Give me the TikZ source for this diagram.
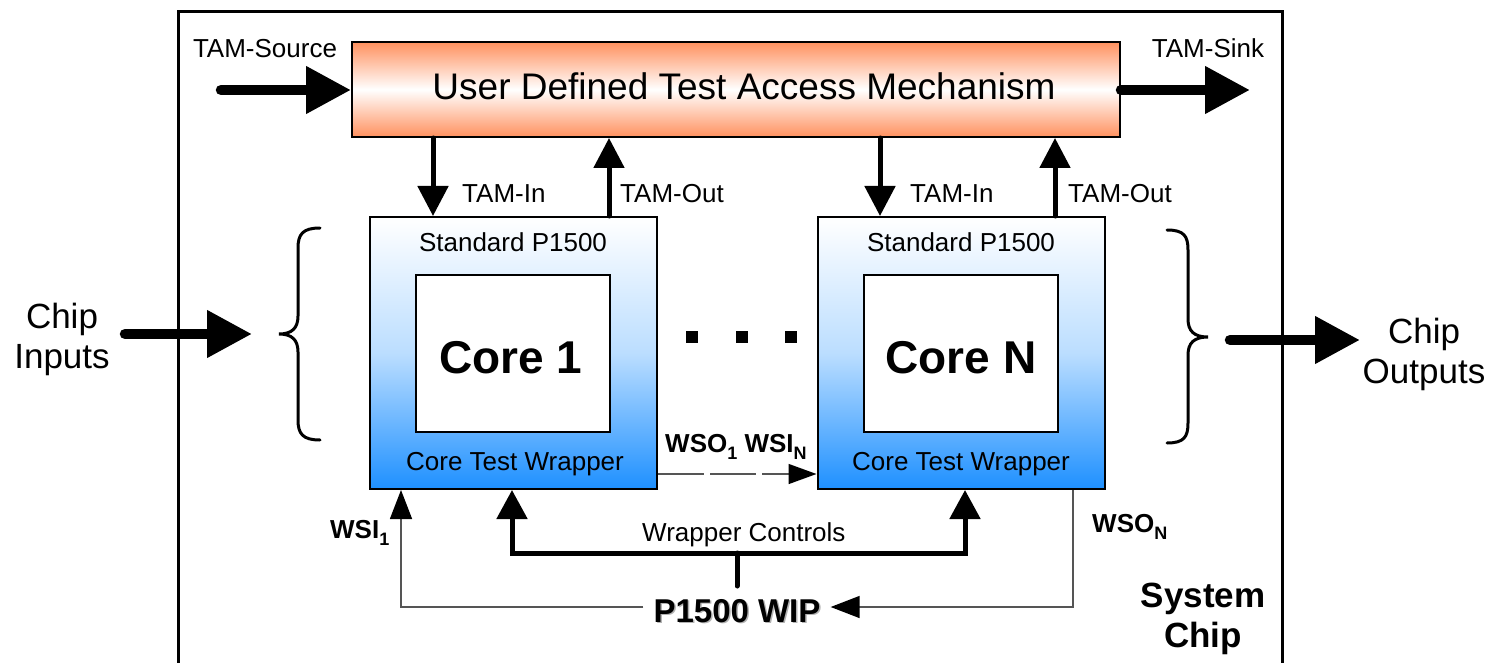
\documentclass[tikz,border=0pt]{standalone}
\usepackage{fontspec}
\setmainfont{Liberation Sans}
\usetikzlibrary{arrows.meta,calc}
\definecolor{tamorange}{RGB}{255,145,95}
\definecolor{wblue}{RGB}{30,144,255}
\definecolor{thinline}{RGB}{85,85,85}
\newcommand\mysub[1]{\raisebox{-7pt}{\fontsize{18}{20}\selectfont #1}}
\tikzset{
  lbl/.style={font=\fontsize{26}{30}\selectfont, inner sep=0pt},
  bl/.style={font=\bfseries\fontsize{26}{30}\selectfont, inner sep=0pt},
  big/.style={font=\fontsize{35}{40}\selectfont, align=center, inner sep=0pt},
  bigb/.style={font=\bfseries\fontsize{35}{40}\selectfont, align=center, inner sep=0pt},
  tambox/.style={draw=black, line width=2pt, top color=tamorange, bottom color=tamorange, middle color=white,
     minimum width=768pt, minimum height=95pt, inner sep=0pt, font=\fontsize{37}{40}\selectfont},
  wrapbox/.style={draw=black, line width=2pt, top color=white, bottom color=wblue, middle color=wblue!30!white,
     minimum width=287pt, minimum height=272pt, inner sep=0pt},
  corebox/.style={draw=black, line width=2pt, fill=white, minimum width=194pt, minimum height=157pt, inner sep=0pt,
     font=\bfseries\fontsize{46}{50}\selectfont},
  fatarr/.style={line width=10.5pt, line cap=round, -{Triangle[length=45pt,width=45pt]}},
  medarr/.style={line width=5pt, line cap=round, -{Triangle[length=30pt,width=30pt]}},
  thinarr/.style={line width=1.5pt, draw=thinline, -{Triangle[length=29pt,width=22pt,black]}},
  dasharr/.style={line width=1.5pt, draw=thinline, dash pattern=on 46pt off 6pt, -{Triangle[length=28pt,width=20pt,black]}},
  brace/.style={line width=3pt, line cap=round},
  dot/.style={fill=black, minimum size=12pt, inner sep=0pt},
}
\begin{document}
\begin{tikzpicture}[x=1pt,y=-1pt]
\useasboundingbox (0,0) rectangle (1493,663);
% system chip frame
\node[draw=black, line width=3pt, minimum width=1104pt, minimum height=700pt, inner sep=0pt, anchor=north west] (chip) at (177,10) {};

% TAM
\node[tambox] (tam) at (736,89.5) {};
\node[font=\fontsize{37}{40}\selectfont, inner sep=0pt, anchor=base] (tamtxt) at (744,100) {User Defined Test Access Mechanism};
\coordinate (srcstart) at (221,90);
\coordinate (sinkend) at (1250,90);
\draw[fatarr] (srcstart) -- (tam.west |- srcstart);
\draw[fatarr] (tam.east |- sinkend) -- (sinkend);
\node[lbl, anchor=base] (tamsrc) at (265,58) {TAM-Source};
\node[lbl, anchor=base] (tamsink) at (1208,58) {TAM-Sink};

% wrappers
\node[wrapbox] (core1) at (513.5,353) {};
\node[wrapbox] (coreN) at (961,353) {};
\node[corebox] (in1) at (512.5,353.5) {};
\node[corebox] (inN) at (960.5,353.5) {};
\node[font=\bfseries\fontsize{46}{50}\selectfont, inner sep=0pt, anchor=base] (c1txt) at (511,373) {Core 1};
\node[font=\bfseries\fontsize{46}{50}\selectfont, inner sep=0pt, anchor=base] (cNtxt) at (961,373) {Core N};
\node[lbl, anchor=base] (std1) at (513,251) {Standard P1500};
\node[lbl, anchor=base] (stdN) at (961,251) {Standard P1500};
\node[lbl, anchor=base] (ctw1) at (515,470) {Core Test Wrapper};
\node[lbl, anchor=base] (ctwN) at (961,470) {Core Test Wrapper};

% TAM in/out
\draw[medarr] (tam.south -| 433,0) -- (core1.north -| 433,0);
\draw[medarr] (core1.north -| 609,0) -- (tam.south -| 609,0);
\draw[medarr] (tam.south -| 880,0) -- (coreN.north -| 880,0);
\draw[medarr] (coreN.north -| 1055,0) -- (tam.south -| 1055,0);
\node[lbl, anchor=base west] (tin1) at (462,203) {TAM-In};
\node[lbl, anchor=base west] (tout1) at (620,203) {TAM-Out};
\node[lbl, anchor=base west] (tinN) at (910,203) {TAM-In};
\node[lbl, anchor=base west] (toutN) at (1068,203) {TAM-Out};

% dots
\node[dot] (d1) at (692,337) {};
\node[dot] (d2) at (742,337) {};
\node[dot] (d3) at (791,337) {};

% braces
\draw[brace] (320,228) .. controls (303,228) and (298,234) .. (298,248) -- (298,316) .. controls (298,328) and (292,334) .. (279,334)
  .. controls (292,334) and (298,340) .. (298,352) -- (298,420) .. controls (298,434) and (303,440) .. (320,440);
\draw[brace] (1167,230) .. controls (1184,230) and (1188,236) .. (1188,250) -- (1188,319) .. controls (1188,331) and (1194,337) .. (1208,337)
  .. controls (1194,337) and (1188,343) .. (1188,355) -- (1188,423) .. controls (1188,437) and (1184,443) .. (1167,443);

% chip inputs / outputs
\coordinate (inStart) at (125,334);
\coordinate (inEnd) at (252,334);
\coordinate (outStart) at (1230,340);
\coordinate (outEnd) at (1360,340);
\draw[fatarr] (inStart) -- (inEnd);
\draw[fatarr] (outStart) -- (outEnd);
\node[big] (chipin) at (62,339) {Chip\\Inputs};
\node[big] (chipout) at (1424,354) {Chip\\Outputs};

% WSO1 -> WSIN
\draw[dasharr] (core1.east |- 0,474) -- (coreN.west |- 0,474);
\node[bl, anchor=base west] (wso1) at (665,452) {WSO\mysub{1} WSI\mysub{N}};

% WIP
\node[font=\bfseries\fontsize{33}{36}\selectfont, inner sep=0pt, anchor=base, text=black!30] (wipsh) at (738.5,623.5) {P1500 WIP};
\node[font=\bfseries\fontsize{33}{36}\selectfont, inner sep=10pt, anchor=base] (wip) at (737,622) {P1500 WIP};
\draw[thinarr] (wip.west |- 0,607) -- (401,607) -- (core1.south -| 401,0);
\draw[thinarr] (coreN.south -| 1073,0) -- (1073,607) -- (wip.east |- 0,607);
\node[bl, anchor=base west] (wsi1) at (330,538) {WSI\mysub{1}};
\node[bl, anchor=base west] (wson) at (1092,532) {WSO\mysub{N}};

% wrapper controls
\draw[line width=5pt, {Triangle[length=29pt,width=30pt]}-{Triangle[length=29pt,width=30pt]}]
  (core1.south -| 512,0) -- (512,553) -- (965,553) -- (coreN.south -| 965,0);
\draw[line width=5pt, line cap=round] (737,553) -- (737,586);
\node[lbl, anchor=base west] (wctl) at (642,541) {Wrapper Controls};

% system chip label
\node[bigb] (syschip) at (1203,619) {System\\Chip};
\end{tikzpicture}
\end{document}
